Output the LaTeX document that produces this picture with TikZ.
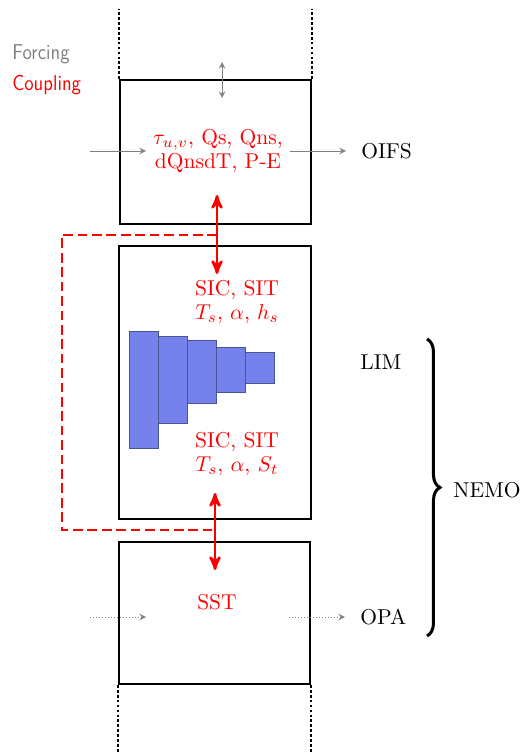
\documentclass[tikz,border=0pt]{standalone}
\usepackage{amsmath}
\usepackage{graphicx}
\usepackage{tikz}
\usetikzlibrary{positioning}
\usetikzlibrary{arrows}
\usetikzlibrary{decorations.pathreplacing}
\definecolor{iceblue}{RGB}{117,130,236}
\newcommand{\icebar}[4]{ % Takes left x, top y, right x, bottom y of one ice category bar as arguments
    \filldraw[fill=iceblue, draw=iceblue!65!black, line width=0.3pt] (#1,#2) rectangle (#3,#4);
}
\newcommand{\legendtext}[1]{\scalebox{0.87}[1]{\sffamily #1}}

\begin{document}
\begin{tikzpicture}[x=0.465pt, y=-0.465pt,
    modelbox/.style={draw, thick, inner sep=0pt},
    openside/.style={thick, dash pattern=on 1.3pt off 1pt},
    forcing/.style={gray, ->, >=stealth},
    coupling/.style={red, line width=1.2pt, <->, >=stealth'},
    fieldtext/.style={red, align=center, inner sep=0pt},
    modelname/.style={anchor=west, inner sep=0pt}]
        \useasboundingbox (0,0) rectangle (522,753);

        % Legend
        \node[modelname, gray] (forcinglbl) at (12,54) {\legendtext{Forcing}};
        \node[modelname, red] (couplinglbl) at (12,85) {\legendtext{Coupling}};

        % Model boxes
        \node[modelbox, minimum width=88.8pt, minimum height=67pt] (atmbox) at (215.5,152) {};
        \node[modelbox, minimum width=89.3pt, minimum height=127pt] (icebox) at (215,382.5) {};
        \node[modelbox, minimum width=88.8pt, minimum height=66pt] (ocebox) at (214.5,613) {};

        % Open column above and below
        \draw[openside] (atmbox.north west) -- ++(0,-70);
        \draw[openside] (atmbox.north east) -- ++(0,-70);
        \draw[openside] (ocebox.south west) -- ++(0,70);
        \draw[openside] (ocebox.south east) -- ++(0,70);

        % Exchanged fields
        \node[fieldtext] (atmfields) at (218,151) {$\tau_{u,v}$, Qs, Qns,\\[-1pt] dQnsdT, P-E};
        \node[fieldtext] (icetop) at (237,302) {SIC, SIT\\[-1pt] $T_s$, $\alpha$, $h_s$};
        \node[fieldtext] (icebot) at (237,454) {SIC, SIT\\[-1pt] $T_s$, $\alpha$, $S_t$};
        \node[fieldtext] (ocefields) at (217,602) {SST};

        % Model names
        \node[modelname] (oifs) at (361,151) {OIFS};
        \node[modelname] (lim) at (360,362) {LIM};
        \node[modelname] (opa) at (360,617) {OPA};
        \node[modelname] (nemo) at (453,490) {NEMO};
        \coordinate (bracetop) at (427,339);
        \coordinate (bracebot) at (427,636);
        \draw[decorate, decoration={brace, amplitude=6pt}, line width=1.4pt] (bracetop) -- (bracebot);

        % Forcing arrows
        \coordinate (atmin) at (90,151);
        \coordinate (atmout) at (290,151);
        \coordinate (atmtop) at (222,62);
        \coordinate (atmtopin) at (222,98);
        \draw[forcing] (atmin) -- (146,151);
        \draw[forcing] (atmout) -- (346,151);
        \draw[forcing, <->] (atmtop) -- (atmtopin);
        \coordinate (ocein) at (90,617);
        \coordinate (oceout) at (289,617);
        \draw[forcing, densely dotted] (ocein) -- (146,617);
        \draw[forcing, densely dotted] (oceout) -- (345,617);

        % Coupling arrows
        \coordinate (atmcpl) at (217,195);
        \coordinate (icecpltop) at (217,274);
        \coordinate (icecplbot) at (215,493);
        \coordinate (ocecpl) at (215,570);
        \coordinate (dashtop) at (217,235);
        \coordinate (dashbot) at (215,530);
        \draw[red, thick, dash pattern=on 4.5pt off 2.2pt] (dashtop) -| (62,530) -- (dashbot);
        \draw[coupling] (atmcpl) -- (icecpltop);
        \draw[coupling] (icecplbot) -- (ocecpl);

        % Ice thickness categories
        \icebar{129}{331}{158}{448}
        \icebar{158}{336}{187}{423}
        \icebar{187}{340}{216}{403}
        \icebar{216}{347}{245}{392}
        \icebar{245}{352}{274}{383}
    \end{tikzpicture}
\end{document}
